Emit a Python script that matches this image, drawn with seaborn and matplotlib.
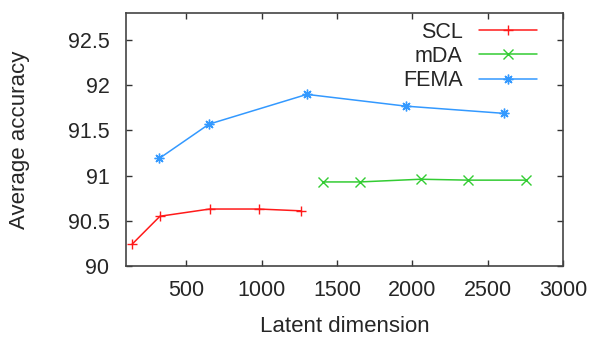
import pandas as pd
import seaborn as sns
import matplotlib.pyplot as plt

# values
scl_dim = [140, 325, 655, 980, 1260]
scl_acc = [90.24, 90.55, 90.63, 90.63, 90.61]

mda_dim = [1405, 1650, 2055, 2370, 2755]
mda_acc = [90.93, 90.93, 90.96, 90.95, 90.95]

fema_dim = [320, 650, 1300, 1955, 2605]
fema_acc = [91.19, 91.57, 91.90, 91.77, 91.69]

x_ticks = [500, 1000, 1500, 2000, 2500, 3000]
y_ticks = [90, 90.5, 91, 91.5, 92, 92.5]
y_tick_labels = ['90', '90.5', '91', '91.5', '92', '92.5']

sns.set_style('ticks')
plt.rcParams['font.family'] = ['Liberation Sans', 'DejaVu Sans']

fig = plt.figure(figsize=(5.89, 3.37), dpi=100)
ax = fig.add_axes([0.214, 0.211, 0.742, 0.750])

series = [
    ('SCL', scl_dim, scl_acc, '#ff1a1a', '+'),
    ('mDA', mda_dim, mda_acc, '#33cc33', 'x'),
    ('FEMA', fema_dim, fema_acc, '#3399ff', (8, 2, 0)),
]
for name, xs, ys, col, mk in series:
    df = pd.DataFrame({'dim': xs, 'acc': ys})
    sns.lineplot(data=df, x='dim', y='acc', ax=ax, color=col, marker=mk,
                 markersize=7, markeredgewidth=1.0, linewidth=1.1,
                 markeredgecolor=col, label=name)

ax.set_xlim(100, 3000)
ax.set_ylim(90, 92.8)
ax.set_xticks(x_ticks)
ax.set_yticks(y_ticks)
ax.set_yticklabels(y_tick_labels)
ax.tick_params(direction='in', top=True, right=True, length=4, width=1,
               color='#333333', labelsize=15.5)
ax.tick_params(axis='y', pad=12)
ax.tick_params(axis='x', pad=10)
for sp in ax.spines.values():
    sp.set_color('#444444')
    sp.set_linewidth(1.2)

ax.set_xlabel('Latent dimension', fontsize=16, labelpad=11)
ax.set_ylabel('Average accuracy', fontsize=16, labelpad=27)

leg = ax.legend(loc='upper right', bbox_to_anchor=(0.94, 0.966), frameon=False,
                markerfirst=False, fontsize=15.5, handlelength=2.7,
                handletextpad=0.75, labelspacing=0.15, borderpad=0,
                borderaxespad=0)
for t in leg.get_texts():
    t.set_ha('right')

fig.savefig('out.png', dpi=100)
